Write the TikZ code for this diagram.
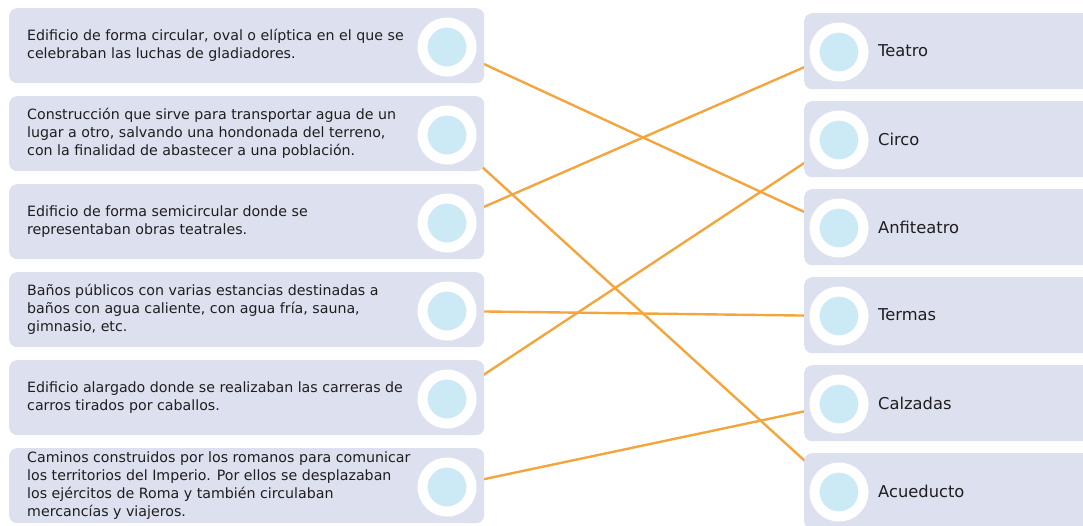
\documentclass[tikz,border=0pt]{standalone}
\usepackage{fontspec}
\setmainfont{DejaVu Sans}
\usepackage{tikz}
\usetikzlibrary{backgrounds}
\usepackage{xcolor}
\definecolor{ColBox}{RGB}{221,225,239}
\definecolor{ColDot}{RGB}{203,234,246}
\definecolor{ColLine}{RGB}{244,166,62}
\definecolor{ColText}{RGB}{30,30,30}
\tikzstyle{LeftBox}=[rectangle,rounded corners=8pt,fill=ColBox,anchor=north west,
minimum width=475pt,minimum height=75pt,inner sep=0pt]
\tikzstyle{RightBox}=[rectangle,rounded corners=8pt,fill=ColBox,anchor=north west,
minimum width=290pt,minimum height=76pt,inner sep=0pt]
\tikzstyle{DotNode}=[circle,fill=ColDot,draw=white,line width=10pt,minimum size=49pt,inner sep=0pt]
\tikzstyle{LeftText}=[anchor=west,align=left,inner sep=0pt,text=ColText,
font=\fontsize{14.2}{18}\selectfont]
\tikzstyle{RightText}=[anchor=west,inner sep=0pt,text=ColText,font=\fontsize{16.3}{18}\selectfont]
\tikzstyle{EdgeLine}=[ColLine,line width=2.4pt]

\begin{document}
\begin{tikzpicture}[x=1pt,y=-1pt]
        \useasboundingbox (0,0) rectangle (1083,525);
        % left column
        \node[LeftBox](la)at(9,8){};
        \node[LeftBox](lb)at(9,96){};
        \node[LeftBox](lc)at(9,184){};
        \node[LeftBox](ld)at(9,272){};
        \node[LeftBox](le)at(9,360){};
        \node[LeftBox](lf)at(9,448){};
        \node[DotNode](da)at(447,47){};
        \node[DotNode](db)at(447,135){};
        \node[DotNode](dc)at(447,223){};
        \node[DotNode](dd)at(447,311){};
        \node[DotNode](de)at(447,399){};
        \node[DotNode](df)at(447,487){};
        \node[LeftText](ta)at(27,45.5){Edificio de forma circular, oval o elíptica en el que se\\celebraban las luchas de gladiadores.};
        \node[LeftText](tb)at(27,133.5){Construcción que sirve para transportar agua de un\\lugar a otro, salvando una hondonada del terreno,\\con la finalidad de abastecer a una población.};
        \node[LeftText](tc)at(27,221.5){Edificio de forma semicircular donde se\\representaban obras teatrales.};
        \node[LeftText](td)at(27,309.5){Baños públicos con varias estancias destinadas a\\baños con agua caliente, con agua fría, sauna,\\gimnasio, etc.};
        \node[LeftText](te)at(27,397.5){Edificio alargado donde se realizaban las carreras de\\carros tirados por caballos.};
        \node[LeftText](tf)at(27,485.5){Caminos construidos por los romanos para comunicar\\los territorios del Imperio. Por ellos se desplazaban\\los ejércitos de Roma y también circulaban\\mercancías y viajeros.};
        % right column
        \node[RightBox](ra)at(804,13){};
        \node[RightBox](rb)at(804,101){};
        \node[RightBox](rc)at(804,189){};
        \node[RightBox](rd)at(804,277){};
        \node[RightBox](re)at(804,365){};
        \node[RightBox](rf)at(804,453){};
        \node[DotNode](ea)at(839,52){};
        \node[DotNode](eb)at(839,140){};
        \node[DotNode](ec)at(839,228){};
        \node[DotNode](ed)at(839,316){};
        \node[DotNode](ee)at(839,404){};
        \node[DotNode](ef)at(839,492){};
        \node[RightText](sa)at(878,51){Teatro};
        \node[RightText](sb)at(878,139){Circo};
        \node[RightText](sc)at(878,227){Anfiteatro};
        \node[RightText](sd)at(878,315){Termas};
        \node[RightText](se)at(878,403){Calzadas};
        \node[RightText](sf)at(878,491){Acueducto};
        % matches
        \begin{pgfonlayer}{background}
        \draw[EdgeLine](da.center)--(ec.center);
        \draw[EdgeLine](db.center)--(ef.center);
        \draw[EdgeLine](dc.center)--(ea.center);
        \draw[EdgeLine](dd.center)--(ed.center);
        \draw[EdgeLine](de.center)--(eb.center);
        \draw[EdgeLine](df.center)--(ee.center);
        \end{pgfonlayer}
    \end{tikzpicture}
\end{document}
